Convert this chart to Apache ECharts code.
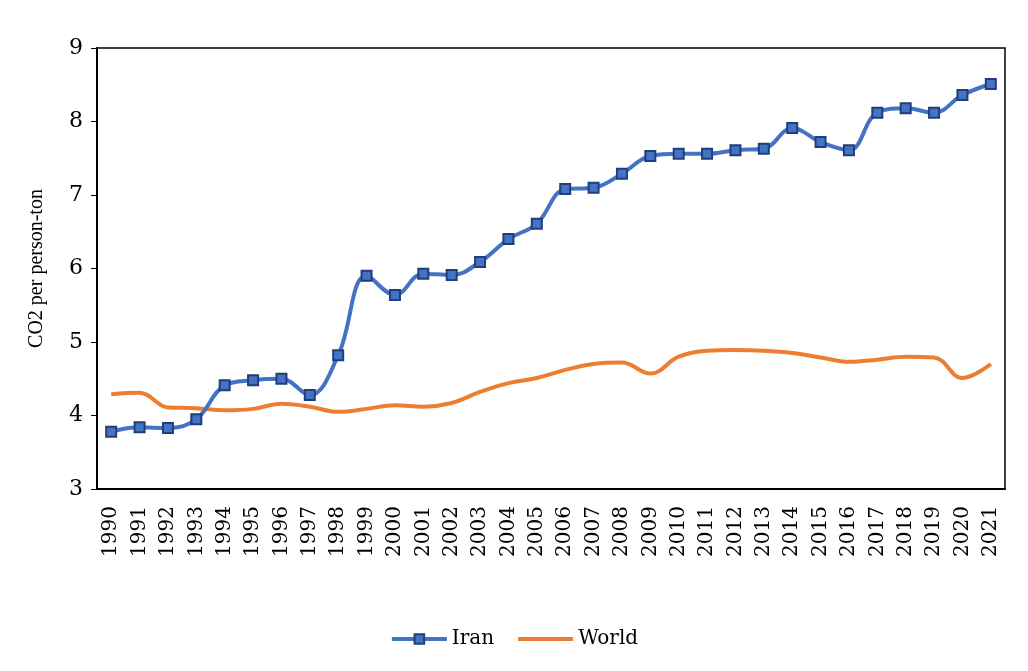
<!DOCTYPE html>
<html><head><meta charset="utf-8">
<script src="https://cdn.jsdelivr.net/npm/echarts@6/dist/echarts.min.js"></script>
<style>html,body{margin:0;padding:0;background:#fff}#c{width:1028px;height:671px}</style>
</head><body><div id="c"></div>
<script>
const years = ['1990','1991','1992','1993','1994','1995','1996','1997','1998','1999','2000','2001','2002','2003','2004','2005','2006','2007','2008','2009','2010','2011','2012','2013','2014','2015','2016','2017','2018','2019','2020','2021'];
const iran = [3.78,3.84,3.83,3.95,4.41,4.48,4.50,4.28,4.82,5.90,5.64,5.93,5.91,6.09,6.40,6.61,7.08,7.10,7.29,7.53,7.56,7.56,7.61,7.63,7.91,7.72,7.61,8.12,8.18,8.12,8.36,8.51];
const world = [4.29,4.31,4.11,4.10,4.07,4.09,4.16,4.12,4.05,4.09,4.14,4.12,4.17,4.32,4.44,4.51,4.62,4.70,4.72,4.57,4.80,4.88,4.89,4.88,4.85,4.79,4.73,4.76,4.80,4.79,4.51,4.70];
const yTicks = {min:3, max:9, interval:1};
const font = 'DejaVu Serif';
const chart = echarts.init(document.getElementById('c'));
chart.setOption({
  animation:false,
  textStyle:{fontFamily:font,color:'#000'},
  grid:{left:97,right:23,top:48,bottom:182,show:true,borderColor:'#000',borderWidth:1.5,backgroundColor:'transparent'},
  legend:{bottom:17,left:'center',itemWidth:55,itemHeight:12,itemGap:22,
    textStyle:{fontFamily:font,fontSize:20,color:'#000'},
    lineStyle:{width:4},
    data:[{name:'Iran'},{name:'World',itemStyle:{opacity:0}}]},
  xAxis:{type:'category',data:years,boundaryGap:true,
    axisLine:{lineStyle:{color:'#000',width:2}},
    axisTick:{inside:true,length:6,lineStyle:{color:'#000'}},
    axisLabel:{rotate:90,fontSize:20,color:'#000',fontFamily:font,margin:17,interval:0}},
  yAxis:{type:'value',min:yTicks.min,max:yTicks.max,interval:yTicks.interval,
    name:'CO2 per person-ton',nameLocation:'middle',nameGap:50,
    nameTextStyle:{fontSize:20,fontFamily:'Liberation Serif',color:'#000'},
    axisLine:{show:true,lineStyle:{color:'#000',width:2}},
    axisTick:{show:true,length:6,lineStyle:{color:'#000'}},
    splitLine:{show:false},
    axisLabel:{fontSize:22,color:'#000',fontFamily:font,margin:14}},
  series:[
    {name:'Iran',type:'line',data:iran,smooth:0.4,symbol:'rect',symbolSize:10,
      lineStyle:{color:'#4472C4',width:4},
      itemStyle:{color:'#4472C4',borderColor:'#1F3F7A',borderWidth:2},z:3},
    {name:'World',type:'line',data:world,smooth:0.4,symbol:'none',
      lineStyle:{color:'#ED7D31',width:4},itemStyle:{color:'#ED7D31'},z:2}
  ]
});
</script></body></html>
